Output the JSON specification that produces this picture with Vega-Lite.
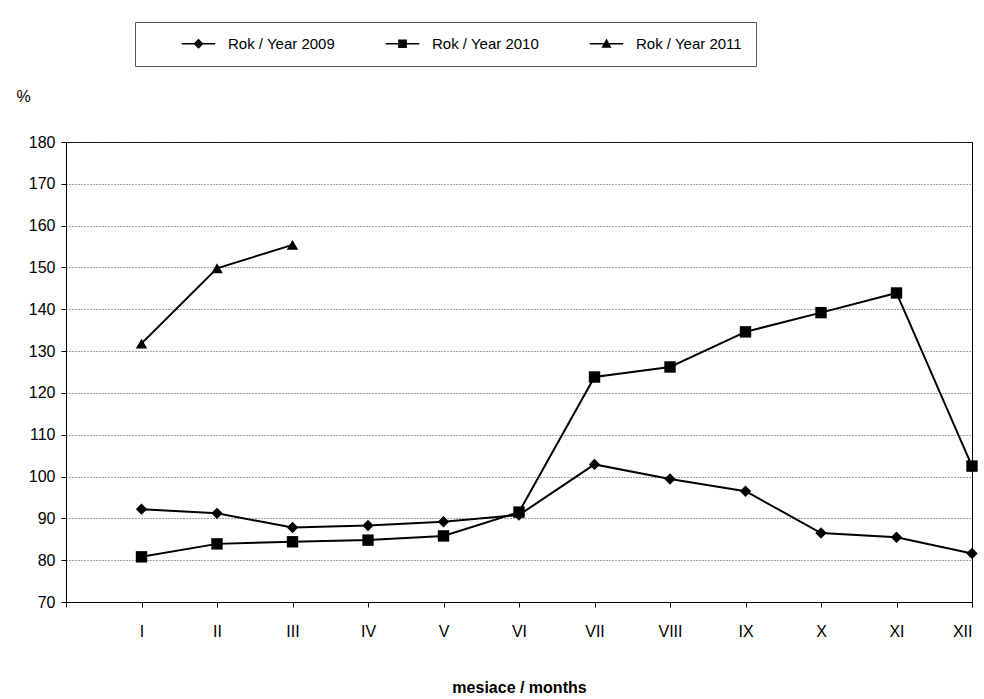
{
  "$schema": "https://vega.github.io/schema/vega-lite/v6.json",
  "autosize": "none",
  "width": 906,
  "height": 460,
  "padding": {"left": 66, "top": 142, "right": 12, "bottom": 97},
  "background": "white",
  "config": {
    "font": "Liberation Sans",
    "view": {"stroke": "black", "strokeWidth": 1},
    "axis": {"labelFont": "Liberation Sans", "titleFont": "Liberation Sans", "labelFontSize": 16, "labelColor": "black", "domainColor": "black", "tickColor": "black"}
  },
  "data": {
    "values": [
      {"m": 1, "v": 92.2, "s": "Rok / Year 2009"},
      {"m": 2, "v": 91.2, "s": "Rok / Year 2009"},
      {"m": 3, "v": 87.8, "s": "Rok / Year 2009"},
      {"m": 4, "v": 88.3, "s": "Rok / Year 2009"},
      {"m": 5, "v": 89.2, "s": "Rok / Year 2009"},
      {"m": 6, "v": 90.8, "s": "Rok / Year 2009"},
      {"m": 7, "v": 102.9, "s": "Rok / Year 2009"},
      {"m": 8, "v": 99.4, "s": "Rok / Year 2009"},
      {"m": 9, "v": 96.5, "s": "Rok / Year 2009"},
      {"m": 10, "v": 86.5, "s": "Rok / Year 2009"},
      {"m": 11, "v": 85.5, "s": "Rok / Year 2009"},
      {"m": 12, "v": 81.6, "s": "Rok / Year 2009"},
      {"m": 1, "v": 80.8, "s": "Rok / Year 2010"},
      {"m": 2, "v": 83.9, "s": "Rok / Year 2010"},
      {"m": 3, "v": 84.4, "s": "Rok / Year 2010"},
      {"m": 4, "v": 84.8, "s": "Rok / Year 2010"},
      {"m": 5, "v": 85.8, "s": "Rok / Year 2010"},
      {"m": 6, "v": 91.5, "s": "Rok / Year 2010"},
      {"m": 7, "v": 123.8, "s": "Rok / Year 2010"},
      {"m": 8, "v": 126.2, "s": "Rok / Year 2010"},
      {"m": 9, "v": 134.6, "s": "Rok / Year 2010"},
      {"m": 10, "v": 139.2, "s": "Rok / Year 2010"},
      {"m": 11, "v": 143.9, "s": "Rok / Year 2010"},
      {"m": 12, "v": 102.5, "s": "Rok / Year 2010"},
      {"m": 1, "v": 131.8, "s": "Rok / Year 2011"},
      {"m": 2, "v": 149.8, "s": "Rok / Year 2011"},
      {"m": 3, "v": 155.4, "s": "Rok / Year 2011"}
    ]
  },
  "encoding": {
    "x": {
      "field": "m", "type": "quantitative",
      "scale": {"domain": [0, 12]},
      "axis": {
        "values": [0, 1, 2, 3, 4, 5, 6, 7, 8, 9, 10, 11, 12],
        "labelExpr": "['', 'I','II','III','IV','V','VI','VII','VIII','IX','X','XI','XII'][datum.value]",
        "grid": false, "labelPadding": 16, "tickSize": 5,
        "title": "mesiace / months", "titleFontSize": 16, "titleFontWeight": "bold", "titlePadding": 40
      }
    },
    "y": {
      "field": "v", "type": "quantitative",
      "scale": {"domain": [70, 180], "nice": false},
      "axis": {
        "values": [70, 80, 90, 100, 110, 120, 130, 140, 150, 160, 170, 180],
        "grid": true, "gridColor": "#444", "gridDash": [1, 2], "gridWidth": 1,
        "tickSize": 5, "labelPadding": 6,
        "title": "%", "titleAngle": 0, "titleFontSize": 16, "titleFontWeight": "normal",
        "titleX": -50, "titleY": -38, "titleAlign": "left"
      }
    },
    "detail": {"field": "s"}
  },
  "resolve": {"scale": {"shape": "independent"}, "legend": {"shape": "independent"}},
  "layer": [
    {
      "mark": {"type": "line", "color": "black", "strokeWidth": 2}
    },
    {
      "mark": {"type": "point", "filled": true, "color": "black", "opacity": 1, "size": 130},
      "encoding": {
        "shape": {
          "field": "s", "type": "nominal",
          "scale": {"range": ["diamond", "square", "triangle-up"]},
          "legend": null
        }
      }
    },
    {
      "transform": [{"filter": "datum.m > 99"}],
      "mark": {"type": "point", "filled": true, "color": "black", "opacity": 1},
      "encoding": {
        "shape": {
          "field": "s", "type": "nominal",
          "scale": {
            "domain": ["Rok / Year 2009", "Rok / Year 2010", "Rok / Year 2011"],
            "range": [
              "M-2.5,-0.12H2.5V0.12H-2.5ZM0,-0.75L0.75,0L0,0.75L-0.75,0Z",
              "M-2.5,-0.12H2.5V0.12H-2.5ZM-0.65,-0.65H0.65V0.65H-0.65Z",
              "M-2.5,-0.12H2.5V0.12H-2.5ZM0,-0.8L0.75,0.6L-0.75,0.6Z"
            ]
          },
          "legend": {
            "title": null, "orient": "none", "direction": "horizontal",
            "legendX": 69, "legendY": -120,
            "strokeColor": "#555", "padding": 14, "fillColor": "white",
            "labelFontSize": 15, "labelFont": "Liberation Sans", "labelColor": "black",
            "columnPadding": 17, "symbolSize": 180, "symbolFillColor": "black", "symbolStrokeColor": "black",
            "symbolStrokeWidth": 0, "symbolOffset": 42, "labelOffset": 22
          }
        }
      }
    }
  ]
}
